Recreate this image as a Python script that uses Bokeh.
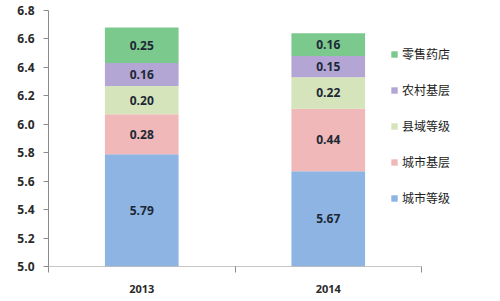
from bokeh.plotting import figure
from bokeh.models import ColumnDataSource, FixedTicker, Legend, LegendItem, Range1d, LabelSet
from bokeh.core.properties import value
from bokeh.embed import file_html
from bokeh.resources import INLINE

years = ["2013", "2014"]
series = ["城市等级", "城市基层", "县域等级", "农村基层", "零售药店"]
city_level = [5.79, 5.67]
city_base = [0.28, 0.44]
county_level = [0.20, 0.22]
rural_base = [0.16, 0.15]
retail = [0.25, 0.16]
y_ticks = [5.0, 5.2, 5.4, 5.6, 5.8, 6.0, 6.2, 6.4, 6.6, 6.8]

colors = ["#8EB4E3", "#F0B8B8", "#D5E4BA", "#B4A6D4", "#7CC98E"]
values = [city_level, city_base, county_level, rural_base, retail]
YMIN, YMAX = 5.0, 6.8

n = len(years)
xs = [i + 0.5 for i in range(n)]
# frame extends to the right edge so the legend is not clipped
x_end = n * (452 / 373)

p = figure(width=500, height=301, output_backend="svg", toolbar_location=None,
           x_range=Range1d(0, x_end), y_range=Range1d(YMIN, YMAX),
           min_border_left=48, min_border_right=0, min_border_top=10, min_border_bottom=35)
p.outline_line_color = None
p.xgrid.visible = False
p.ygrid.visible = False

renderers = []
lx, ly, lt = [], [], []
bottoms = [0.0] * n
for name, vals, col in zip(series, values, colors):
    tops = [b + v for b, v in zip(bottoms, vals)]
    src = ColumnDataSource(dict(x=xs, bottom=bottoms, top=tops))
    r = p.vbar(x="x", bottom="bottom", top="top", width=0.395, source=src,
               fill_color=col, line_color=None)
    renderers.append((name, r))
    for x, b, t, v in zip(xs, bottoms, tops, vals):
        lx.append(x)
        ly.append((max(b, YMIN) + t) / 2)
        lt.append(f"{v:.2f}")
    bottoms = tops

lsrc = ColumnDataSource(dict(x=lx, y=ly, t=lt))
labels = LabelSet(x="x", y="y", text="t", source=lsrc, text_align="center",
                  text_baseline="middle", text_font_size=value("12px"), text_color="#1c2836",
                  text_font=value("Open Sans"), text_font_style=value("bold"))
p.add_layout(labels)

# x axis line only over the category span
p.segment(x0=[0], y0=[YMIN], x1=[n], y1=[YMIN], line_color="#8c8c8c", line_width=1)

# axes
p.xaxis.ticker = FixedTicker(ticks=xs, minor_ticks=list(range(n + 1)))
p.xaxis.major_label_overrides = {x: y for x, y in zip(xs, years)}
p.xaxis.major_tick_line_color = None
p.xaxis.minor_tick_out = 6
p.xaxis.minor_tick_in = 0
p.xaxis.minor_tick_line_color = "#8c8c8c"
p.xaxis.axis_line_color = None
p.xaxis.major_label_text_font = "Open Sans"
p.xaxis.major_label_text_font_size = "11px"
p.xaxis.major_label_text_font_style = "bold"
p.xaxis.major_label_text_color = "#2a2a2a"
p.xaxis.major_label_standoff = 12

p.yaxis.ticker = FixedTicker(ticks=y_ticks)
p.yaxis.major_label_overrides = {t: f"{t:.1f}" for t in y_ticks}
p.yaxis.minor_tick_line_color = None
p.yaxis.major_tick_out = 5
p.yaxis.major_tick_in = 0
p.yaxis.major_tick_line_color = "#8c8c8c"
p.yaxis.axis_line_color = "#8c8c8c"
p.yaxis.major_label_text_font = "Open Sans"
p.yaxis.major_label_text_font_size = "12px"
p.yaxis.major_label_text_font_style = "bold"
p.yaxis.major_label_text_color = "#2a2a2a"
p.yaxis.major_label_standoff = 9

items = [LegendItem(label=nm, renderers=[r]) for nm, r in reversed(renderers)]
legend = Legend(items=items, location=(342, 60), orientation="vertical",
                glyph_width=8, glyph_height=8, label_standoff=4, spacing=19,
                label_text_font="Noto Sans CJK SC", label_text_font_size="12px",
                label_text_color="#222222", background_fill_alpha=0,
                border_line_color=None, padding=0, margin=0, label_height=17)
p.add_layout(legend, "center")

open("out.html", "w").write(file_html(p, INLINE))
